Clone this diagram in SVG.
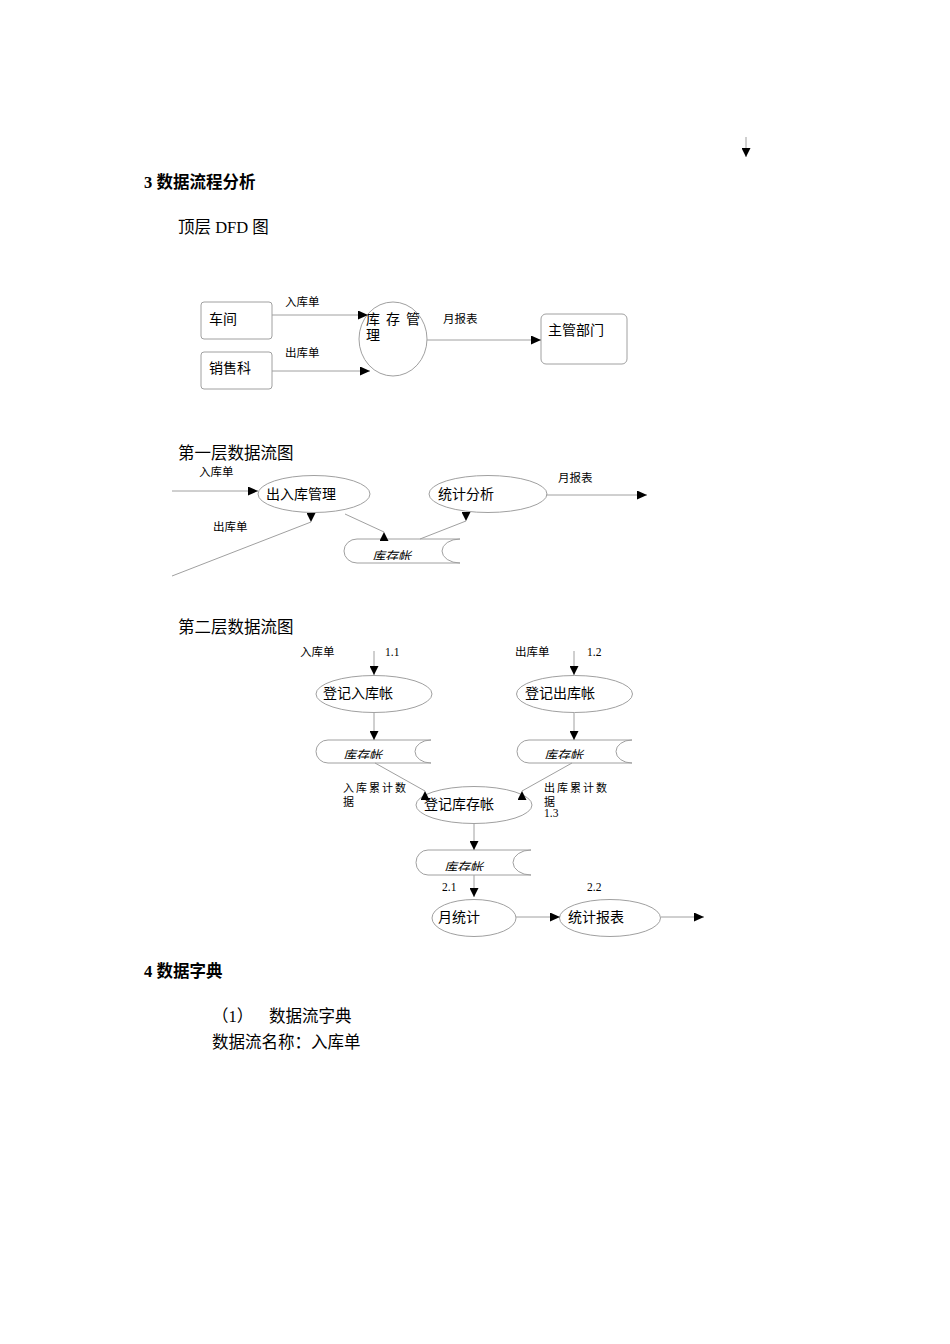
<svg xmlns="http://www.w3.org/2000/svg" width="950" height="1344" viewBox="0 0 950 1344">
<style>
text{font-family:"Liberation Serif","Noto Sans CJK SC",serif;fill:#000}
.h{font-size:16.5px;font-weight:bold}
.t{font-size:16.5px}
.n{font-size:14px}
.s{font-size:11.5px}
.st{font-size:13px;font-style:italic}
.sp{font-size:11px;letter-spacing:2px}
.shape{fill:#fff;stroke:#a0a0a0;stroke-width:1}
.store{fill:none;stroke:#a0a0a0;stroke-width:1}
.ln{stroke:#a0a0a0;stroke-width:1;fill:none}
.lr{marker-end:url(#mr)}
.ld{marker-end:url(#md)}
.lu{marker-end:url(#mu)}
</style>
<defs>
<marker id="mr" viewBox="-10 -4.5 10 9" refX="0" refY="0" markerWidth="10" markerHeight="9" markerUnits="userSpaceOnUse" orient="0"><path d="M0,0 L-10,-4.5 L-10,4.5Z" fill="#000"/></marker>
<marker id="md" viewBox="-4.5 -9 9 9" refX="0" refY="0" markerWidth="9" markerHeight="9" markerUnits="userSpaceOnUse" orient="0"><path d="M0,0 L-4.5,-9 L4.5,-9Z" fill="#000"/></marker>
<marker id="mu" viewBox="-4.5 0 9 9" refX="0" refY="0" markerWidth="9" markerHeight="9" markerUnits="userSpaceOnUse" orient="0"><path d="M0,0 L-4.5,9 L4.5,9Z" fill="#000"/></marker>
<clipPath id="c1"><rect x="340" y="530" width="130" height="30"/></clipPath>
<clipPath id="c2"><rect x="310" y="735" width="130" height="24"/></clipPath>
<clipPath id="c3"><rect x="510" y="735" width="130" height="24"/></clipPath>
<clipPath id="c4"><rect x="410" y="845" width="130" height="26"/></clipPath>
</defs>
<rect width="950" height="1344" fill="#fff"/>

<g id="headings">
<text class="h" x="144" y="188">3 数据流程分析</text>
<text class="t" x="178" y="233">顶层 DFD 图</text>
<text class="t" x="178" y="459">第一层数据流图</text>
<text class="t" x="178" y="633">第二层数据流图</text>
<text class="h" x="144" y="977">4 数据字典</text>
<text class="t" x="212" y="1022">（1）</text>
<text class="t" x="269" y="1022">数据流字典</text>
<text class="t" x="212" y="1048">数据流名称：入库单</text>
</g>

<!-- top level nodes -->
<g id="n-chejian">
<rect class="shape" x="201" y="302" width="71" height="37" rx="3"/>
<text class="n" x="209" y="324">车间</text>
</g>
<g id="n-xiaoshouke">
<rect class="shape" x="201" y="352" width="71" height="37" rx="3"/>
<text class="n" x="209" y="373">销售科</text>
</g>
<g id="n-kucunguanli">
<ellipse class="shape" cx="393" cy="339" rx="34" ry="37"/>
<text class="n" x="366 386 406" y="324">库存管</text>
<text class="n" x="366" y="340">理</text>
</g>
<g id="n-zhuguanbumen">
<rect class="shape" x="541" y="314" width="86" height="50" rx="5"/>
<text class="n" x="548" y="335">主管部门</text>
</g>

<!-- level 1 nodes -->
<g id="n1-churuku">
<ellipse class="shape" cx="314" cy="494" rx="56" ry="18.5"/>
<text class="n" x="266" y="499">出入库管理</text>
</g>
<g id="n1-tongji">
<ellipse class="shape" cx="488" cy="494" rx="59" ry="18.5"/>
<text class="n" x="438" y="499">统计分析</text>
</g>
<g id="n1-store">
<path class="store" d="M357,539 H460 M357,563 H460 M357,539 A13,12 0 0 0 357,563 M460,539 A18,12 0 0 0 460,563"/>
<text class="st" x="372" y="561" clip-path="url(#c1)">库存帐</text>
</g>

<!-- level 2 nodes -->
<g id="n2-rukuzhang">
<ellipse class="shape" cx="374" cy="694" rx="58" ry="18.5"/>
<text class="n" x="323" y="698">登记入库帐</text>
</g>
<g id="n2-chukuzhang">
<ellipse class="shape" cx="574.5" cy="694" rx="58" ry="18.5"/>
<text class="n" x="525" y="698">登记出库帐</text>
</g>
<g id="n2-store-a">
<path class="store" d="M328,740 H431 M328,763 H431 M328,740 A12,11.5 0 0 0 328,763 M431,740 A16,11.5 0 0 0 431,763"/>
<text class="st" x="343" y="760" clip-path="url(#c2)">库存帐</text>
</g>
<g id="n2-store-b">
<path class="store" d="M529,740 H632 M529,763 H632 M529,740 A12,11.5 0 0 0 529,763 M632,740 A16,11.5 0 0 0 632,763"/>
<text class="st" x="544" y="760" clip-path="url(#c3)">库存帐</text>
</g>
<g id="n2-kucunzhang">
<ellipse class="shape" cx="474" cy="805" rx="58" ry="18.5"/>
<text class="n" x="424" y="809">登记库存帐</text>
</g>
<g id="n2-store-c">
<path class="store" d="M428,850 H531 M428,875 H531 M428,850 A12,12.5 0 0 0 428,875 M531,850 A18,12.5 0 0 0 531,875"/>
<text class="st" x="444" y="872" clip-path="url(#c4)">库存帐</text>
</g>
<g id="n2-yuetongji">
<ellipse class="shape" cx="474" cy="918" rx="42" ry="18.5"/>
<text class="n" x="438" y="922">月统计</text>
</g>
<g id="n2-tongjibaobiao">
<ellipse class="shape" cx="610" cy="918" rx="50.5" ry="18.5"/>
<text class="n" x="568" y="922">统计报表</text>
</g>

<g id="connectors">
<line class="ln ld" x1="746" y1="137" x2="746" y2="157"/>
<!-- top level -->
<line class="ln lr" x1="272" y1="315" x2="368" y2="315"/>
<line class="ln lr" x1="272" y1="371" x2="370" y2="371"/>
<line class="ln lr" x1="427" y1="340" x2="541" y2="340"/>
<!-- level 1 -->
<line class="ln lr" x1="172" y1="491" x2="258" y2="491"/>
<line class="ln ld" x1="172" y1="576" x2="311" y2="522"/>
<line class="ln lu" x1="345" y1="514" x2="384" y2="532"/>
<line class="ln ld" x1="420" y1="539" x2="466" y2="521"/>
<line class="ln lr" x1="546" y1="495" x2="647" y2="495"/>
<!-- level 2 -->
<line class="ln ld" x1="374" y1="651" x2="374" y2="675"/>
<line class="ln ld" x1="374" y1="713" x2="374" y2="740"/>
<line class="ln ld" x1="574" y1="651" x2="574" y2="675"/>
<line class="ln ld" x1="574" y1="713" x2="574" y2="740"/>
<line class="ln lu" x1="375" y1="763" x2="425" y2="791"/>
<line class="ln lu" x1="572" y1="763" x2="522" y2="791"/>
<line class="ln ld" x1="474" y1="823" x2="474" y2="850"/>
<line class="ln ld" x1="474" y1="875" x2="474" y2="897"/>
<line class="ln lr" x1="516" y1="917" x2="560" y2="917"/>
<line class="ln lr" x1="661" y1="917" x2="704" y2="917"/>
</g>

<g id="connector-labels">
<text class="s" x="285" y="306">入库单</text>
<text class="s" x="285" y="357">出库单</text>
<text class="s" x="443" y="323">月报表</text>
<text class="s" x="199" y="476">入库单</text>
<text class="s" x="213" y="531">出库单</text>
<text class="s" x="558" y="482">月报表</text>
<text class="s" x="300" y="656">入库单</text>
<text class="s" x="385" y="656">1.1</text>
<text class="s" x="515" y="656">出库单</text>
<text class="s" x="587" y="656">1.2</text>
<text class="sp" x="343" y="792">入库累计数</text>
<text class="sp" x="343" y="806">据</text>
<text class="sp" x="544" y="792">出库累计数</text>
<text class="sp" x="544" y="806">据</text>
<text class="s" x="544" y="817">1.3</text>
<text class="s" x="442" y="891">2.1</text>
<text class="s" x="587" y="891">2.2</text>
</g>
</svg>
